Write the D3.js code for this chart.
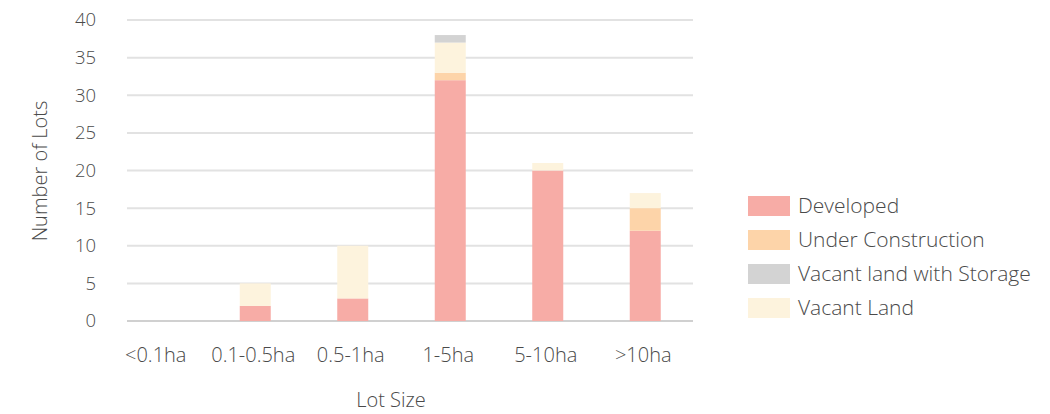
<!DOCTYPE html>
<html><head><meta charset="utf-8">
<script src="https://cdn.jsdelivr.net/npm/d3@7"></script>
<style>body{margin:0;background:#fff;} text{font-family:"Open Sans",Lato,sans-serif;}</style>
</head><body><svg id="c" width="1050" height="414"></svg>
<script>
const categories = ["<0.1ha","0.1-0.5ha","0.5-1ha","1-5ha","5-10ha",">10ha"];
const developed = [0,2,3,32,20,12];
const underConstruction = [0,0,0,1,0,3];
const vacantLand = [0,3,7,4,1,2];
const vacantStorage = [0,0,0,1,0,0];
const yTicks = [0,5,10,15,20,25,30,35,40];

const series = [
  {name:"Developed", values:developed, color:"#f7aca6"},
  {name:"Under Construction", values:underConstruction, color:"#fdd4a9"},
  {name:"Vacant Land", values:vacantLand, color:"#fdf3dd"},
  {name:"Vacant land with Storage", values:vacantStorage, color:"#d3d3d3"}
];
const legendOrder = ["Developed","Under Construction","Vacant land with Storage","Vacant Land"];

const svg = d3.select("#c");
const x = d3.scaleBand().domain(categories).range([109,694]);
const y = d3.scaleLinear().domain([0,40]).range([321,20]);
const txt = "#4a4a4a";
const fw = 300;

svg.append("g").selectAll("line").data(yTicks).join("line")
  .attr("x1",127).attr("x2",693).attr("y1",d=>y(d)).attr("y2",d=>y(d))
  .attr("stroke",d=>d===0?"#d0d0d0":"#e2e2e2").attr("stroke-width",2);

svg.append("g").selectAll("text").data(yTicks).join("text")
  .attr("x",96).attr("y",d=>y(d)).attr("dy","0.35em").attr("text-anchor","end")
  .attr("font-size",18.5).attr("font-weight",fw).attr("fill",txt).text(d=>d);

const rows = categories.map((c,i)=>{const o={cat:c}; series.forEach(s=>o[s.name]=s.values[i]); return o;});
const stack = d3.stack().keys(series.map(s=>s.name))(rows);
const bw = 31;
svg.append("g").selectAll("g").data(stack).join("g")
  .attr("fill",(d,i)=>series[i].color)
  .selectAll("rect").data(d=>d).join("rect")
  .attr("x",d=>x(d.data.cat)+x.bandwidth()/2-bw/2).attr("width",bw)
  .attr("y",d=>y(d[1])).attr("height",d=>y(d[0])-y(d[1]));

svg.append("g").selectAll("text").data(categories).join("text")
  .attr("x",d=>x(d)+x.bandwidth()/2-2).attr("y",362).attr("text-anchor","middle")
  .attr("font-size",20).attr("font-weight",fw).attr("fill",txt).text(d=>d);

svg.append("text").attr("x",391).attr("y",407).attr("text-anchor","middle")
  .attr("font-size",20).attr("font-weight",fw).attr("fill",txt).text("Lot Size");
svg.append("text").attr("transform","translate(47,171) rotate(-90)").attr("text-anchor","middle")
  .attr("font-size",20).attr("font-weight",fw).attr("fill",txt).text("Number of Lots");

const lg = svg.append("g").selectAll("g").data(legendOrder).join("g")
  .attr("transform",(d,i)=>`translate(748,${196+i*34})`);
lg.append("rect").attr("width",42).attr("height",20).attr("fill",d=>series.find(s=>s.name===d).color);
lg.append("text").attr("x",50).attr("y",10).attr("dy","0.35em").attr("font-size",21).attr("font-weight",fw).attr("fill",txt).text(d=>d);
</script></body></html>
